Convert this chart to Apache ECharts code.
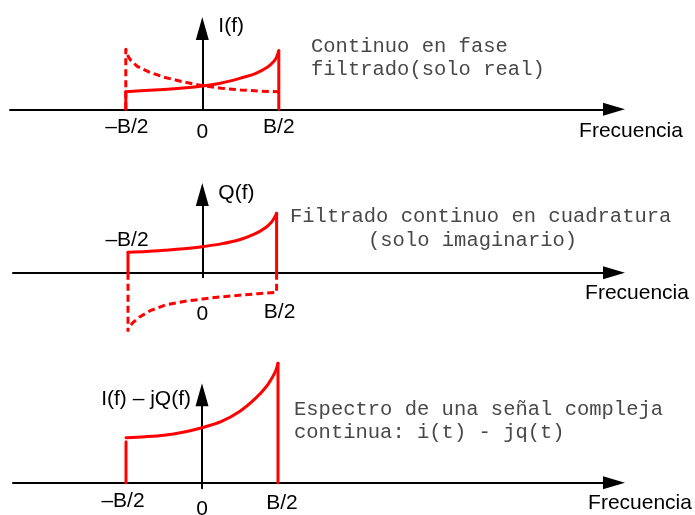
<!DOCTYPE html>
<html>
<head>
<meta charset="utf-8">
<style>
  html, body { margin: 0; padding: 0; background: #ffffff; }
  #chart { width: 695px; height: 515px; }
</style>
<script src="https://cdn.jsdelivr.net/npm/echarts@6/dist/echarts.min.js"></script>
</head>
<body>
<div id="chart"></div>
<script>
// Frequency is measured in units of B/2, amplitudes in arbitrary units.
const tickValues = [-1, 0, 1];
const tickLabels = ['–B/2', '0', 'B/2'];
const amplitudeNames = ['I(f)', 'Q(f)', 'I(f) – jQ(f)'];
const freqName = 'Frecuencia';

// Sampling frequencies of the spectral curves
const curveF = [-1, -0.75, -0.5, -0.25, 0, 0.25, 0.5, 0.7, 0.85, 0.93, 0.97, 1];

// In-phase spectrum and its mirror image
const iSpectrum = [1.76, 1.87, 1.98, 2.13, 2.33, 2.63, 3.12, 3.6, 4.2, 4.75, 5.2, 5.86];
const iMirrorF = [-0.97, -0.93, -0.85, -0.7, -0.5, -0.25, 0, 0.25, 0.5, 0.75, 1];
const iMirror = [5.3, 4.85, 4.3, 3.75, 3.2, 2.75, 2.36, 2.1, 1.93, 1.82, 1.76];
const iMirrorEdge = 6.0;

// Quadrature spectrum and its negated mirror image
const qSpectrum = [2.04, 2.12, 2.25, 2.4, 2.6, 2.88, 3.3, 3.85, 4.5, 5.05, 5.5, 5.94];
const qMirrorF = [1, 0.75, 0.5, 0.25, 0, -0.25, -0.5, -0.7, -0.85, -0.93, -0.97];
const qMirror = [-1.96, -2.1, -2.25, -2.42, -2.63, -2.88, -3.23, -3.8, -4.45, -4.96, -5.3];
const qMirrorEdge = -5.9;

// Complex signal spectrum
const complexSpectrum = [4.5, 4.6, 4.75, 5.05, 5.5, 6.1, 7.15, 8.4, 9.65, 10.6, 11.2, 11.94];
const complexLeftEdge = 4.1;

const notes = [
  ['Continuo en fase', 'filtrado(solo real)'],
  ['Filtrado continuo en cuadratura', '(solo imaginario)'],
  ['Espectro de una señal compleja', 'continua: i(t) - jq(t)']
];

// ---- layout ----
const PX_PER_AMP = 10;
const panels = [
  { zeroX: 202.3, unitX: 76.5, zeroY: 109.3, start: 10, end: 614, yMin: 0, yMax: 8.08,
    tickOffsets: [[1, 17.5], [0, 22.5], [0, 17.5]],
    yName: { gap: 2, align: 'left', padding: [0, 0, 0, 16] },
    freqPos: [631, 131],
    notePos: [[311, 47], [311, 70]] },
  { zeroX: 202.3, unitX: 74.3, zeroY: 272.7, start: 13, end: 614, yMin: -0.46, yMax: 7.82,
    tickOffsets: [[-1, -32.5], [0, 41.5], [3, 39.5]],
    yName: { gap: 1.5, align: 'left', padding: [0, 0, 0, 16] },
    freqPos: [637, 293],
    notePos: [[290, 217], [368, 241]] },
  { zeroX: 202, unitX: 76, zeroY: 482.7, start: 13, end: 614, yMin: -0.56, yMax: 8.79,
    tickOffsets: [[-3, 19], [0, 27], [4, 21]],
    yName: { gap: -4.7, align: 'right', padding: [0, 11, 0, 0] },
    freqPos: [640, 503],
    notePos: [[294, 410], [294, 433]] }
];

const SANS = '"Liberation Sans", Arial, sans-serif';
const MONO = '"Liberation Mono", "DejaVu Sans Mono", monospace';
const RED = '#ff0000';
const axisLineStyle = { color: '#000000', width: 2 };

const zip = (xs, ys) => xs.map((x, i) => [x, ys[i]]);

const grids = [], xAxes = [], yAxes = [], series = [], graphics = [];

panels.forEach((p, i) => {
  grids.push({
    left: p.start,
    width: p.end - p.start,
    top: p.zeroY - p.yMax * PX_PER_AMP,
    height: (p.yMax - p.yMin) * PX_PER_AMP,
    outerBoundsMode: 'none',
    containLabel: false
  });
  xAxes.push({
    type: 'value', gridIndex: i,
    min: (p.start - p.zeroX) / p.unitX,
    max: (p.end - p.zeroX) / p.unitX,
    axisLine: { show: true, onZero: true, lineStyle: axisLineStyle,
                symbol: ['none', 'triangle'], symbolSize: [13, 22] },
    axisTick: { show: false }, axisLabel: { show: false }, splitLine: { show: false }
  });
  yAxes.push({
    type: 'value', gridIndex: i, min: p.yMin, max: p.yMax,
    axisLine: { show: true, onZero: true, lineStyle: axisLineStyle,
                symbol: ['none', 'triangle'], symbolSize: [13, 23] },
    axisTick: { show: false }, axisLabel: { show: false }, splitLine: { show: false },
    name: amplitudeNames[i], nameLocation: 'end', nameGap: p.yName.gap, nameMoveOverlap: false,
    nameTextStyle: { fontFamily: SANS, fontSize: 21, color: '#000',
                     align: p.yName.align, verticalAlign: 'middle', padding: p.yName.padding }
  });

  // frequency tick labels
  series.push({
    type: 'scatter', xAxisIndex: i, yAxisIndex: i, silent: true, z: 5,
    symbol: 'circle', symbolSize: 0, itemStyle: { color: '#000000', opacity: 1 },
    label: { show: true, position: 'inside', fontFamily: SANS, fontSize: 21, color: '#000000',
             opacity: 1, textBorderWidth: 0, textShadowBlur: 0,
             align: 'center', verticalAlign: 'middle',
             formatter: (prm) => tickLabels[prm.dataIndex] },
    data: tickValues.map((v, k) => ({ value: [v, 0], label: { offset: p.tickOffsets[k] } }))
  });

  // frequency axis title
  graphics.push({
    type: 'text', x: p.freqPos[0], y: p.freqPos[1], silent: true,
    style: { text: freqName, fontFamily: SANS, fontSize: 21, fill: '#000000',
             align: 'center', verticalAlign: 'middle' }
  });

  // annotation text
  notes[i].forEach((line, k) => {
    graphics.push({
      type: 'text', x: p.notePos[k][0], y: p.notePos[k][1], silent: true,
      style: { text: line, fontFamily: MONO, fontSize: 20.5, fill: '#484848',
               align: 'left', verticalAlign: 'middle' }
    });
  });
});

function redLine(idx, data, opts) {
  return Object.assign({
    type: 'line', xAxisIndex: idx, yAxisIndex: idx, data: data,
    showSymbol: false, symbol: 'none', clip: false, silent: true, animation: false, z: 3,
    lineStyle: { color: RED, width: 3, cap: 'round', join: 'round' }
  }, opts || {});
}
const dashed = { color: RED, width: 3, type: [7, 4], cap: 'butt', join: 'round' };
const first = (a) => a[0], last = (a) => a[a.length - 1];

// Panel 1: in-phase
series.push(redLine(0, [[-1, 0], [-1, iMirrorEdge]].concat(zip(iMirrorF, iMirror)),
                    { lineStyle: dashed, z: 2 }));
series.push(redLine(0, [[-1, 0], [-1, first(iSpectrum)]]));
series.push(redLine(0, zip(curveF, iSpectrum), { smooth: 0.3 }));
series.push(redLine(0, [[1, last(iSpectrum)], [1, 0]]));

// Panel 2: quadrature
series.push(redLine(1, [[1, 0], [1, first(qMirror)]].concat(zip(qMirrorF, qMirror)),
                    { lineStyle: dashed, z: 2 }));
series.push(redLine(1, [[-1, 0], [-1, qMirrorEdge]], { lineStyle: dashed, z: 2 }));
series.push(redLine(1, [[-1, 0], [-1, first(qSpectrum)]]));
series.push(redLine(1, zip(curveF, qSpectrum), { smooth: 0.3 }));
series.push(redLine(1, [[1, last(qSpectrum)], [1, 0]]));

// Panel 3: complex signal
series.push(redLine(2, [[-1, 0], [-1, complexLeftEdge]]));
series.push(redLine(2, zip(curveF, complexSpectrum), { smooth: 0.3 }));
series.push(redLine(2, [[1, last(complexSpectrum)], [1, 0]]));

const chart = echarts.init(document.getElementById('chart'), null, { renderer: 'canvas' });
chart.setOption({
  backgroundColor: '#ffffff',
  animation: false,
  grid: grids,
  xAxis: xAxes,
  yAxis: yAxes,
  series: series,
  graphic: graphics
});
</script>
</body>
</html>
